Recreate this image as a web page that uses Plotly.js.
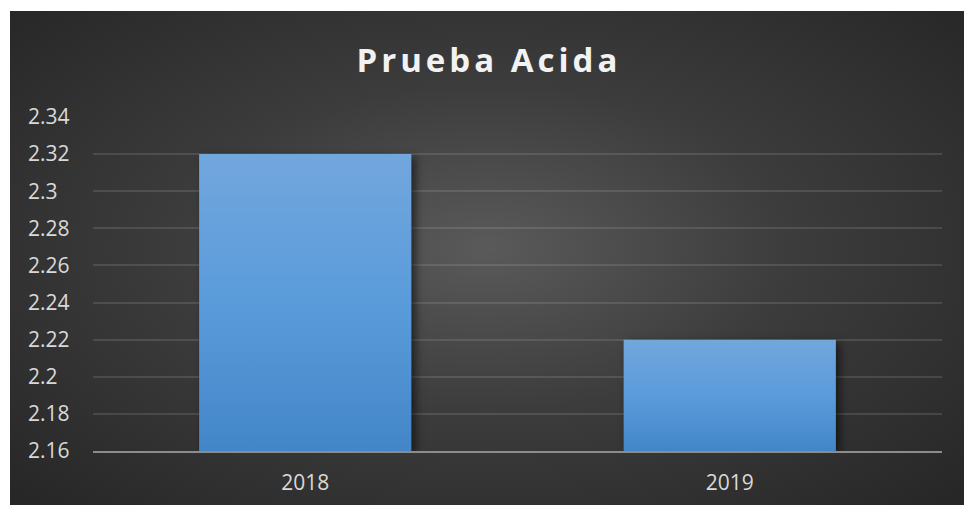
<!DOCTYPE html>
<html>
<head>
<meta charset="utf-8">
<script src="https://cdn.plot.ly/plotly-3.0.1.min.js"></script>
<style>
  html, body { margin: 0; padding: 0; background: #ffffff; width: 964px; height: 505px; overflow: hidden; }
  #chart {
    position: absolute; left: 10px; top: 11px; width: 954px; height: 494px;
    background: radial-gradient(ellipse farthest-corner at 50% 48%, #5a5a5a 0%, #3c3c3c 45%, #262626 100%);
  }
  #chart .gtitle { letter-spacing: 4px; }
  #chart .trace.bars path { fill: url(#barGrad) !important; filter: drop-shadow(4px 3px 4px rgba(0,0,0,0.55)); }
</style>
</head>
<body>
<svg width="0" height="0" style="position:absolute">
  <defs>
    <linearGradient id="barGrad" x1="0" y1="0" x2="0" y2="1">
      <stop offset="0%" stop-color="#72a7dd"/>
      <stop offset="50%" stop-color="#5a9bdb"/>
      <stop offset="100%" stop-color="#4386c7"/>
    </linearGradient>
  </defs>
</svg>
<div id="chart"></div>
<script>
const categories = ["2018", "2019"];
const values = [2.32, 2.22];
const yAxisMin = 2.16;
const yAxisMax = 2.34;
const yTickVals = [2.16, 2.18, 2.2, 2.22, 2.24, 2.26, 2.28, 2.3, 2.32, 2.34];
const yTickText = ["2.16", "2.18", "2.2", "2.22", "2.24", "2.26", "2.28", "2.3", "2.32", "2.34"];
const chartTitle = "Prueba Acida";

// Bars start at the axis floor so the gradient spans only the visible bar.
const trace = {
  type: "bar",
  x: categories,
  base: yAxisMin,
  y: values.map(v => v - yAxisMin),
  customdata: values,
  hovertemplate: "%{x}: %{customdata}<extra></extra>",
  marker: { color: "#5b9bd5", line: { width: 0 } }
};

const layout = {
  width: 954,
  height: 494,
  paper_bgcolor: "rgba(0,0,0,0)",
  plot_bgcolor: "rgba(0,0,0,0)",
  margin: { l: 83, r: 22, t: 106, b: 54 },
  bargap: 0.5,
  showlegend: false,
  font: { family: "Open Sans, sans-serif", color: "#d9d9d9", size: 21 },
  title: {
    text: "<b>" + chartTitle + "</b>",
    font: { family: "Open Sans, sans-serif", size: 33, color: "#f2f2f2" },
    x: 0.502, xref: "container", xanchor: "center",
    y: 0.900, yref: "container", yanchor: "middle"
  },
  xaxis: {
    type: "category",
    range: [-0.5, 1.5],
    autorange: false,
    showgrid: false,
    zeroline: false,
    showline: true,
    linecolor: "#8c8c8c",
    linewidth: 2,
    ticks: "",
    ticklabelstandoff: 12,
    tickfont: { size: 21, color: "#d9d9d9" },
    fixedrange: true
  },
  yaxis: {
    range: [yAxisMin, yAxisMax],
    autorange: false,
    tickvals: yTickVals,
    ticktext: yTickText,
    showgrid: true,
    gridcolor: "rgba(200,200,200,0.16)",
    gridwidth: 2,
    zeroline: false,
    showline: false,
    ticks: "",
    ticklabelposition: "inside",
    ticklabeloverflow: "allow",
    ticklabelstandoff: -68,
    tickfont: { size: 21, color: "#d9d9d9" },
    fixedrange: true
  }
};

Plotly.newPlot("chart", [trace], layout, { displayModeBar: false, staticPlot: true });
</script>
</body>
</html>
